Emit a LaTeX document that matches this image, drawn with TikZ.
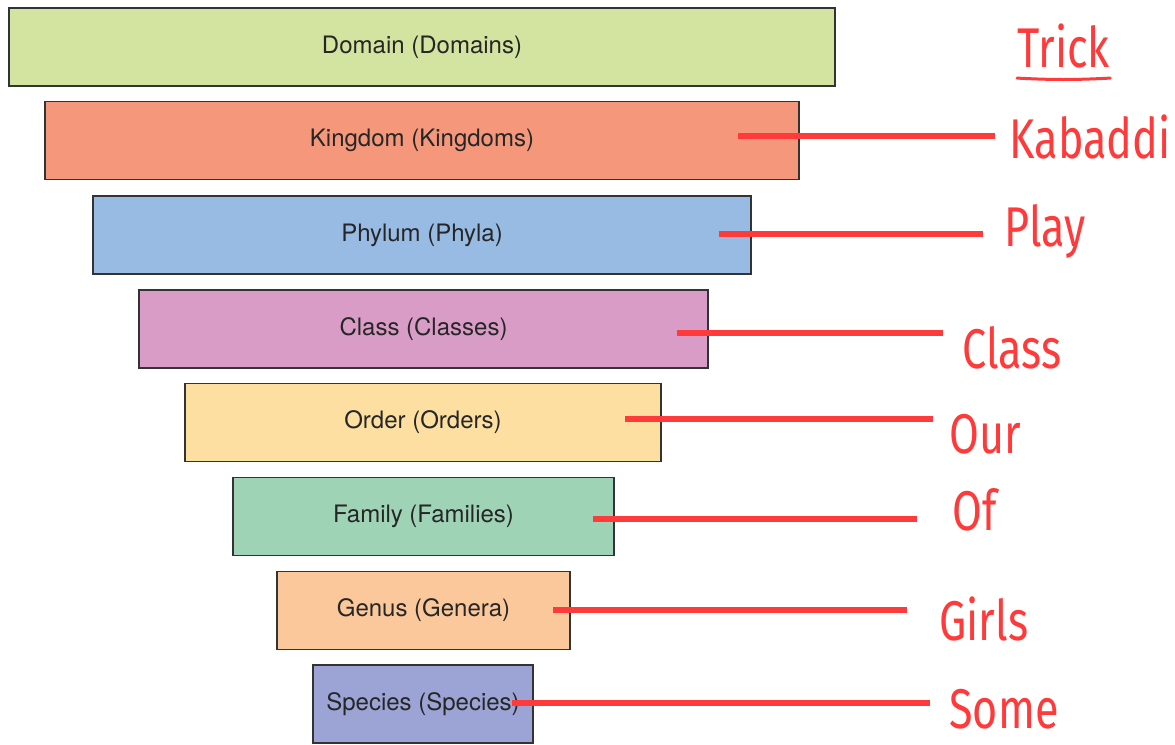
\documentclass[tikz,border=0pt]{standalone}
\usepackage{fontspec}
\newfontfamily\labelfont{TeX Gyre Heros}
\newfontfamily\handfont{Fira Sans}
\definecolor{domaincol}{RGB}{210,228,160}
\definecolor{kingdomcol}{RGB}{244,151,123}
\definecolor{phylumcol}{RGB}{152,187,228}
\definecolor{classcol}{RGB}{216,156,199}
\definecolor{ordercol}{RGB}{253,224,161}
\definecolor{familycol}{RGB}{159,211,182}
\definecolor{genuscol}{RGB}{251,200,155}
\definecolor{speciescol}{RGB}{155,164,213}
\definecolor{hand}{RGB}{255,58,58}
\newcommand{\hw}[1]{\scalebox{.77}[1]{#1}}

\begin{document}
\begin{tikzpicture}[x=.5pt, y=-.5pt,
		rank/.style={draw=black!80, line width=.8pt, inner sep=0pt, minimum height=39pt, font=\labelfont\fontsize{12}{14}\selectfont, text=black!85},
		word/.style={anchor=base west, inner sep=0pt, text=hand, font=\handfont\fontsize{28}{28}\selectfont},
		link/.style={draw=hand, line width=3pt}]
		\useasboundingbox (0, 0) rectangle (1175, 745);
		% ranks
		\node[rank, fill=domaincol, minimum width=413pt](domain) at(422, 47){Domain (Domains)};
		\node[rank, fill=kingdomcol, minimum width=377pt](kingdom) at(422, 140.5){Kingdom (Kingdoms)};
		\node[rank, fill=phylumcol, minimum width=329pt](phylum) at(422, 235){Phylum (Phyla)};
		\node[rank, fill=classcol, minimum width=284.5pt](class) at(423.5, 329){Class (Classes)};
		\node[rank, fill=ordercol, minimum width=238pt](order) at(423, 422.5){Order (Orders)};
		\node[rank, fill=familycol, minimum width=190.5pt](family) at(423.5, 516.5){Family (Families)};
		\node[rank, fill=genuscol, minimum width=146.5pt](genus) at(423.5, 610.5){Genus (Genera)};
		\node[rank, fill=speciescol, minimum width=110pt](species) at(423, 704){Species (Species)};
		% trick words
		\node[word](trick) at(1017, 67){\hw{Trick}};
		\draw[hand, line width=1.5pt, line cap=round]([yshift=-5pt]trick.south west) to[bend right=3] ([yshift=-5pt]trick.south east);
		\node[word](kabaddi) at(1009, 158){\hw{Kabaddi}};
		\node[word](play) at(1004, 246){\hw{Play}};
		\node[word](classw) at(962, 368){\hw{Class}};
		\node[word](our) at(949, 453){\hw{Our}};
		\node[word](of) at(952, 530){\hw{Of}};
		\node[word](girls) at(939, 640){\hw{Girls}};
		\node[word](some) at(949, 728){\hw{Some}};
		% links
		\coordinate(k0) at(738, 136);
		\coordinate(p0) at(719, 234);
		\coordinate(c0) at(677, 333);
		\coordinate(o0) at(625, 419);
		\coordinate(f0) at(593, 519);
		\coordinate(g0) at(553, 610);
		\coordinate(s0) at(512, 703);
		\draw[link, shorten >=7pt](k0)--(k0 -| kabaddi.west);
		\draw[link, shorten >=10.5pt](p0)--(p0 -| play.west);
		\draw[link, shorten >=9.5pt](c0)--(c0 -| classw.west);
		\draw[link, shorten >=8pt](o0)--(o0 -| our.west);
		\draw[link, shorten >=17.5pt](f0)--(f0 -| of.west);
		\draw[link, shorten >=16pt](g0)--(g0 -| girls.west);
		\draw[link, shorten >=9.5pt](s0)--(s0 -| some.west);
	\end{tikzpicture}
\end{document}
